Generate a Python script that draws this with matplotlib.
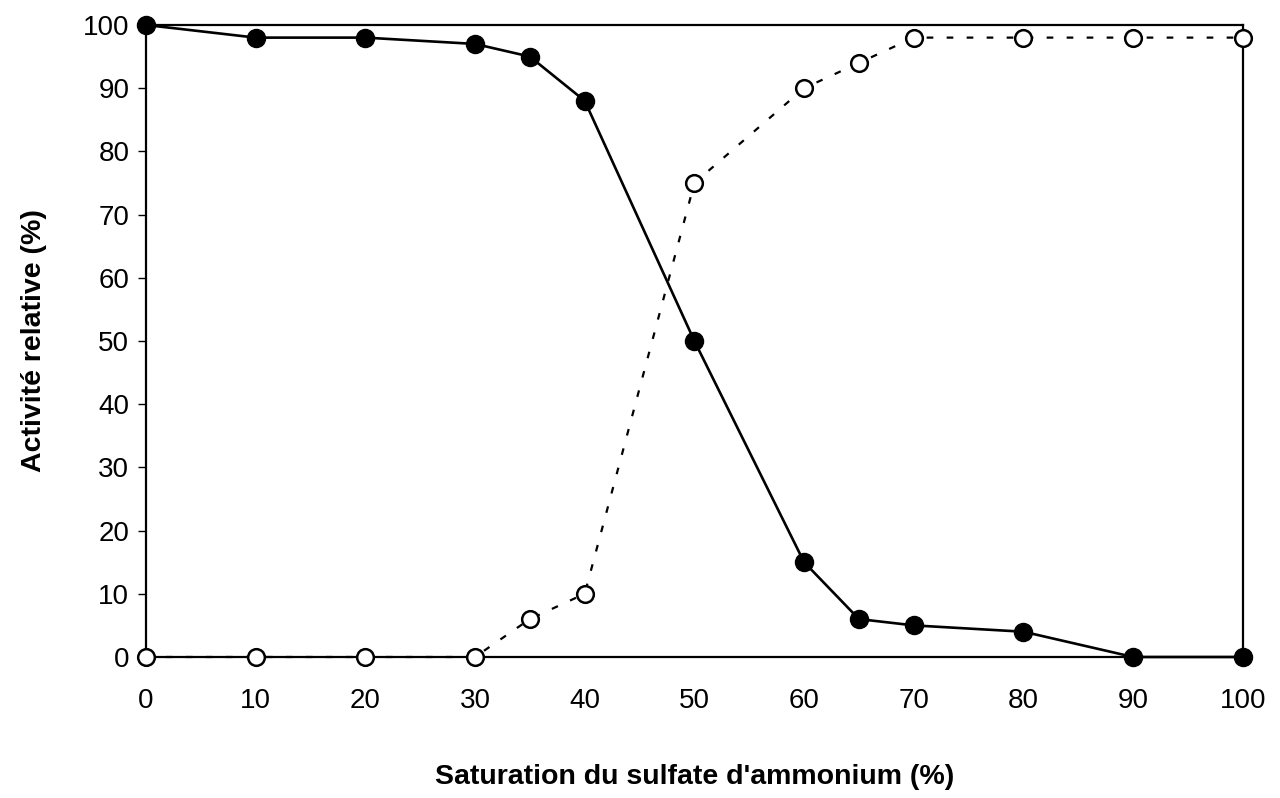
import matplotlib
matplotlib.use('Agg')
import matplotlib.pyplot as plt

# ------------------------------------------------------------
# Data
# ------------------------------------------------------------
saturation = [0, 10, 20, 30, 35, 40, 50, 60, 65, 70, 80, 90, 100]
activite_surnageant = [100, 98, 98, 97, 95, 88, 50, 15, 6, 5, 4, 0, 0]
activite_culot = [0, 0, 0, 0, 6, 10, 75, 90, 94, 98, 98, 98, 98]

x_ticks = list(range(0, 101, 10))
y_ticks = list(range(0, 101, 10))

plt.rcParams['font.family'] = ['Liberation Sans', 'DejaVu Sans']

fig = plt.figure(figsize=(12.8, 7.98), dpi=100)
ax = fig.add_axes([0.114, 0.1767, 0.857, 0.792])

# open circles, dotted line
ax.plot(saturation, activite_culot, linestyle=(0, (3, 6)), color='black',
        linewidth=1.6, marker='o', markersize=12, markerfacecolor='white',
        markeredgecolor='black', markeredgewidth=1.8, clip_on=False, zorder=3)

# filled circles, solid line
ax.plot(saturation, activite_surnageant, linestyle='-', color='black',
        linewidth=1.9, marker='o', markersize=13, markerfacecolor='black',
        markeredgecolor='black', clip_on=False, zorder=4)

ax.set_xlim(0, 100)
ax.set_ylim(0, 100)
ax.set_xticks(x_ticks)
ax.set_yticks(y_ticks)
ax.tick_params(axis='y', direction='out', length=6, width=1, labelsize=20, pad=6)
ax.tick_params(axis='x', direction='out', length=0, labelsize=20, pad=22)

for side in ['left', 'bottom', 'top', 'right']:
    ax.spines[side].set_linewidth(1.6)
    ax.spines[side].set_color('black')

ax.set_xlabel("Saturation du sulfate d'ammonium (%)", fontsize=20.5,
              fontweight='bold', labelpad=36)
ax.set_ylabel('Activité relative (%)', fontsize=20.5, fontweight='bold',
              labelpad=26)

fig.savefig('out.png', dpi=100)
